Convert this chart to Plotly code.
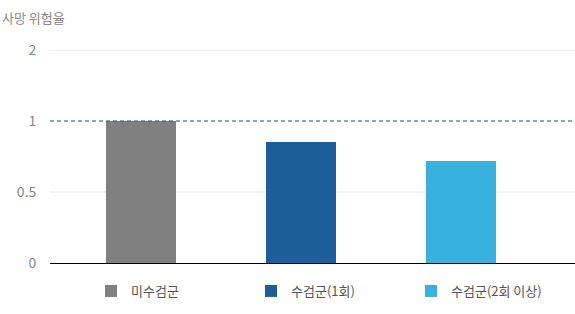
import plotly.graph_objects as go

categories = ["미수검군", "수검군(1회)", "수검군(2회 이상)"]
values = [1.0, 0.85, 0.72]
colors = ["#808080", "#1c5e99", "#38b1de"]
tick_vals = [0, 0.5, 1, 1.5]
tick_text = ["0", "0.5", "1", "2"]
grid_vals = [0.5, 1.5]
ref_value = 1

FONT = "Noto Sans CJK KR"

fig = go.Figure()
for i, (c, v, col) in enumerate(zip(categories, values, colors)):
    fig.add_trace(go.Bar(
        x=[i], y=[v], name=c, marker=dict(color=col, line=dict(width=0)),
        width=0.4375, showlegend=True,
    ))

shapes = []
for g in grid_vals:
    shapes.append(dict(type="line", xref="paper", x0=0, x1=1, yref="y", y0=g, y1=g,
                       line=dict(color="#e6e6e6", width=1), layer="below"))
shapes.append(dict(type="line", xref="paper", x0=0, x1=1, yref="y", y0=ref_value, y1=ref_value,
                   line=dict(color="#1a4c80", width=1, dash="4px,3px"), layer="above"))

fig.update_layout(
    width=575, height=314,
    margin=dict(l=50, r=0, t=50, b=51, autoexpand=False),
    paper_bgcolor="white", plot_bgcolor="white",
    font=dict(family=FONT, size=13, color="#888888"),
    showlegend=True,
    legend=dict(orientation="h", xref="container", x=91 / 575, xanchor="left",
                yref="container", y=38 / 314, yanchor="top",
                entrywidth=115, entrywidthmode="pixels", itemwidth=30,
                font=dict(family=FONT, size=13, color="#555555"),
                traceorder="normal"),
    xaxis=dict(range=[-0.569, 2.7125], showticklabels=False, showgrid=False,
               zeroline=False, showline=True, linecolor="black", linewidth=1, fixedrange=True),
    yaxis=dict(range=[0, 1.5], tickvals=tick_vals, ticktext=tick_text, showgrid=False,
               zeroline=False, showline=False, ticks="outside", ticklen=10, automargin=False,
               tickcolor="rgba(0,0,0,0)", tickfont=dict(family=FONT, size=14, color="#888888")),
    shapes=shapes,
    annotations=[dict(text="사망 위험율", xref="paper", yref="paper", x=-50/525, y=1+32/212,
                      xanchor="left", yanchor="middle", showarrow=False,
                      font=dict(family=FONT, size=13, color="#888888"))],
    bargap=0,
)

fig.write_html("out.html")
